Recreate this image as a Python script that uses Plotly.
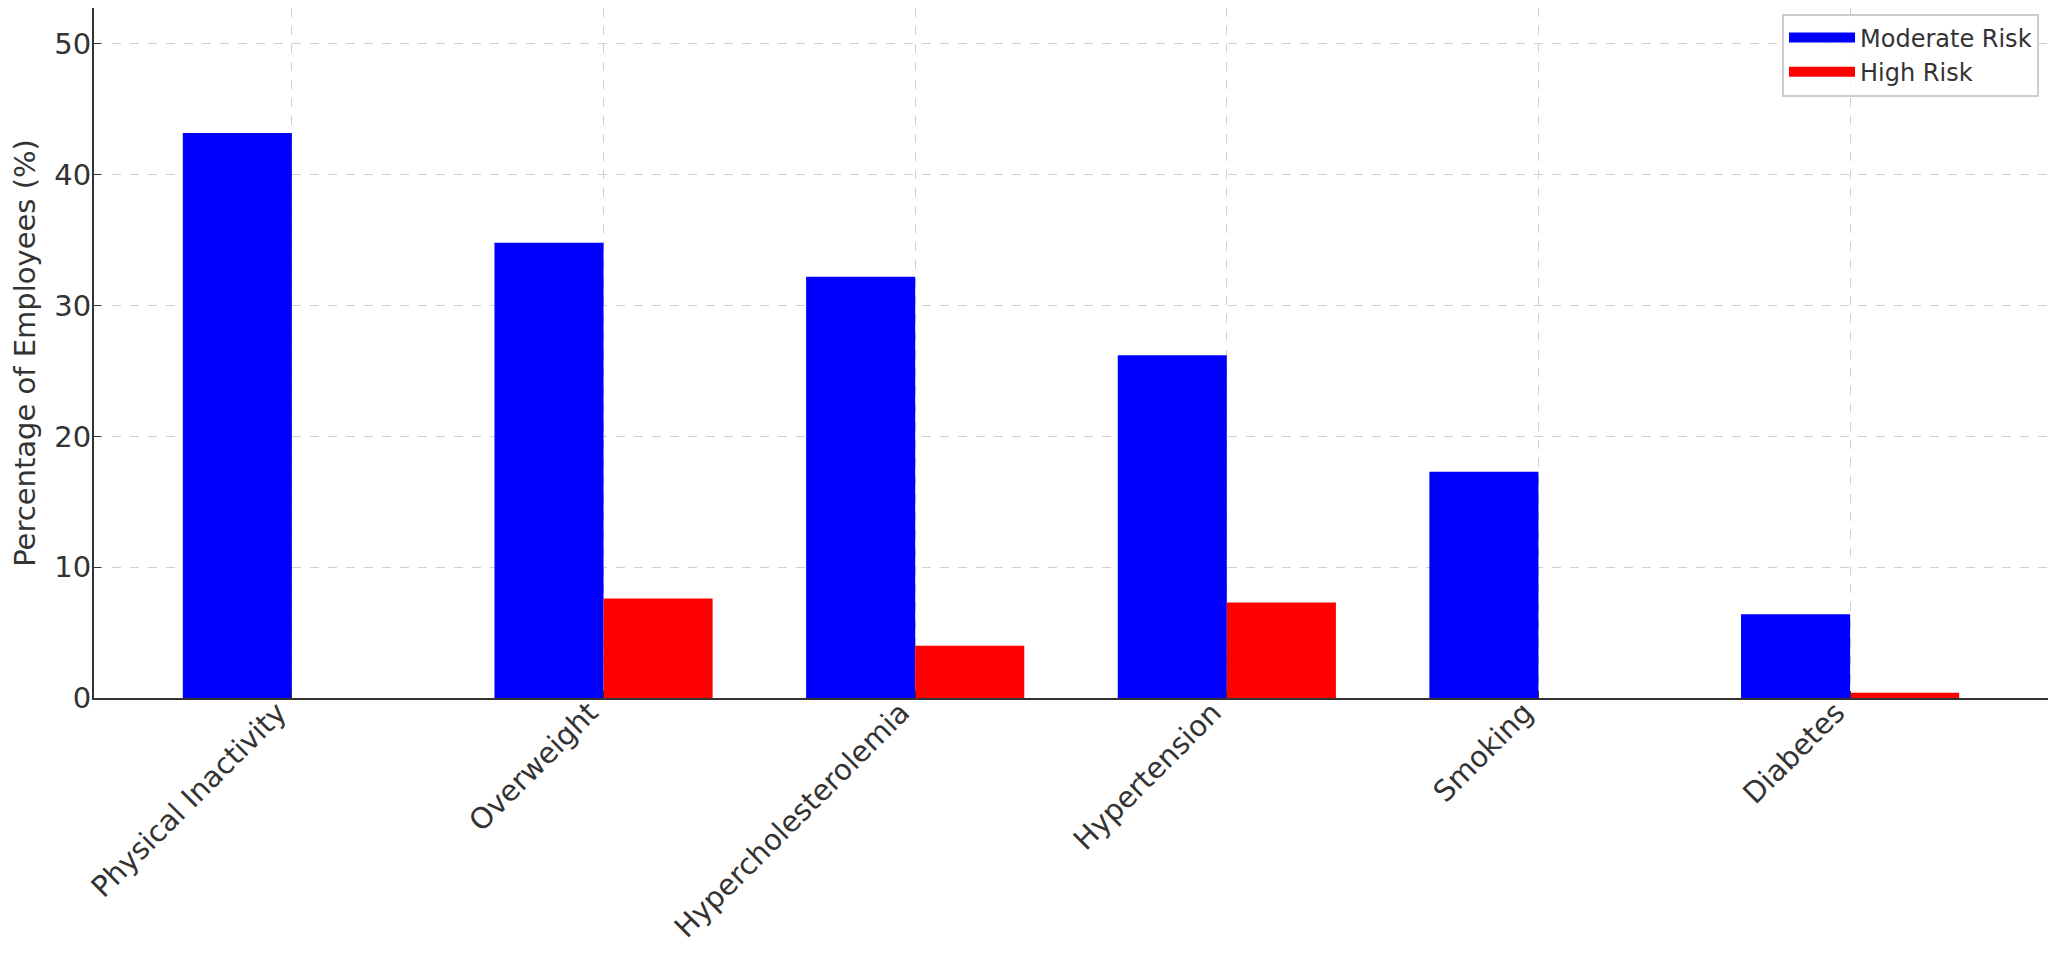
import plotly.graph_objects as go

# risk factors and prevalence (%)
risk_factors = ['Physical Inactivity', 'Overweight', 'Hypercholesterolemia',
                'Hypertension', 'Smoking', 'Diabetes']
moderate_risk = [43.2, 34.8, 32.2, 26.2, 17.3, 6.4]
high_risk = [0.0, 7.6, 4.0, 7.3, 0.0, 0.4]
y_ticks = [0, 10, 20, 30, 40, 50]

series = [('Moderate Risk', moderate_risk, '#0000ff'),
          ('High Risk', high_risk, '#ff0000')]

FONT = 'DejaVu Sans'
TEXT_COLOR = '#333333'
AXIS_COLOR = '#333333'

fig = go.Figure()

for name, values, color in series:
    fig.add_trace(go.Bar(x=risk_factors, y=values, name=name, showlegend=False,
                         marker=dict(color=color, line=dict(width=0))))
    # legend only: thick line gives the wide patch matplotlib uses
    fig.add_trace(go.Scatter(x=[None], y=[None], mode='lines', name=name,
                             line=dict(color=color, width=17)))

# the page body adds an 8px offset, margins below account for it
fig.update_layout(
    width=2056, height=953,
    barmode='group', bargap=0.3, bargroupgap=0,
    plot_bgcolor='white', paper_bgcolor='white',
    font=dict(family=FONT, size=29, color=TEXT_COLOR),
    margin=dict(l=86, r=16, t=0, b=263),
    legend=dict(x=0.9954, y=0.992, xanchor='right', yanchor='top',
                bgcolor='rgba(255,255,255,0.85)', bordercolor='#cccccc', borderwidth=2,
                font=dict(size=24, color=TEXT_COLOR), itemwidth=66,
                tracegroupgap=0),
    xaxis=dict(
        range=[-0.635, 5.635],
        tickangle=-45,
        automargin=False,
        ticklabelstandoff=-16,
        ticklabelshift=-14,
        showline=True, linecolor=AXIS_COLOR, linewidth=2,
        ticks='inside', ticklen=7, tickcolor=AXIS_COLOR,
        showgrid=True, gridcolor='#d0d0d0', griddash='dash', gridwidth=1.3,
    ),
    yaxis=dict(
        range=[0, 52.75],
        tickvals=y_ticks,
        automargin=False,
        ticklabelstandoff=-5,
        title=dict(text='Percentage of Employees (%)', standoff=11,
                   font=dict(size=29)),
        showline=True, linecolor=AXIS_COLOR, linewidth=2,
        ticks='inside', ticklen=7, tickcolor=AXIS_COLOR,
        showgrid=True, gridcolor='#d0d0d0', griddash='dash', gridwidth=1.3,
        zeroline=False,
    ),
)

fig.write_html("out.html")
